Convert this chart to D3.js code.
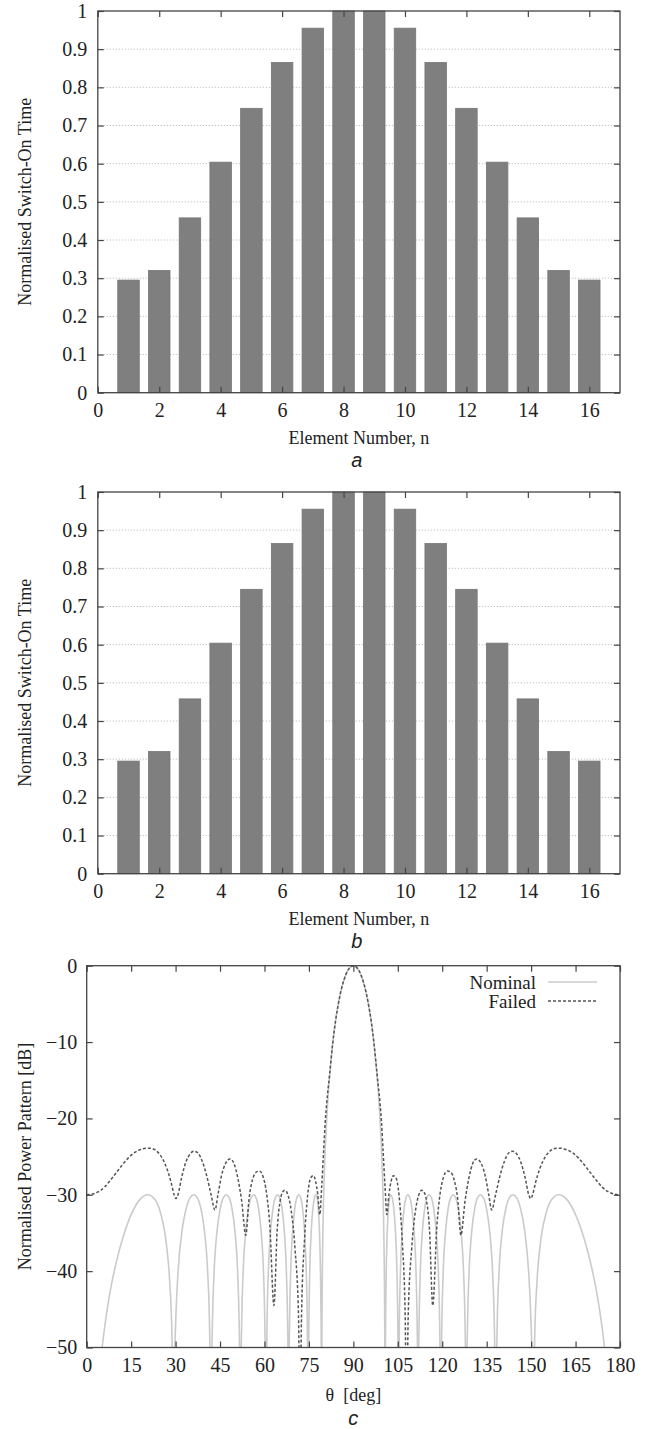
<!DOCTYPE html>
<html>
<head>
<meta charset="utf-8">
<script src="https://cdn.jsdelivr.net/npm/d3@7/dist/d3.min.js"></script>
<style>
  html, body { margin: 0; padding: 0; background: #fff; }
  svg { display: block; }
</style>
</head>
<body>
<svg id="fig" width="649" height="1429"></svg>
<script>
// ---- data -------------------------------------------------------------
const elementNumbers = [1, 2, 3, 4, 5, 6, 7, 8, 9, 10, 11, 12, 13, 14, 15, 16];
const switchOnTimesA = [0.295, 0.32, 0.458, 0.604, 0.745, 0.865, 0.955, 1.0,
                        1.0, 0.955, 0.865, 0.745, 0.604, 0.458, 0.32, 0.295];
const switchOnTimesB = [0.295, 0.32, 0.458, 0.604, 0.745, 0.865, 0.955, 1.0,
                        1.0, 0.955, 0.865, 0.745, 0.604, 0.458, 0.32, 0.295];
const elementTicks = [0, 2, 4, 6, 8, 10, 12, 14, 16];
const switchTicks = [0, 0.1, 0.2, 0.3, 0.4, 0.5, 0.6, 0.7, 0.8, 0.9, 1];
const switchTickLabels = ["0", "0.1", "0.2", "0.3", "0.4", "0.5", "0.6", "0.7", "0.8", "0.9", "1"];
const thetaTicks = [0, 15, 30, 45, 60, 75, 90, 105, 120, 135, 150, 165, 180];
const powerTicks = [0, -10, -20, -30, -40, -50];

// nominal power pattern [theta deg, dB]
const nominalPattern = [
  [0,-80],[1,-78],[2,-66.5],[3,-59.5],[4,-54.5],[5,-50.7],[6.5,-46.1],[8,-42.5],[10,-38.8],[12,-35.9],[15,-32.6],[18,-30.6],[20.6,-30],[23,-30.6],[25,-32.5],[27,-36.8],[28,-41.3],[28.8,-48.9],[29.1,-55.8],[29.34,-80],
  [29.48,-60],[29.68,-52.1],[30.09,-46.1],[30.82,-40.2],[32.21,-34.6],[33.57,-31.8],[34.87,-30.4],[36.14,-30],[37.36,-30.4],[38.54,-31.8],[39.71,-34.6],[40.84,-40.2],[41.40,-46.1],[41.66,-52.1],[41.83,-60],[41.95,-80],
  [42.05,-60],[42.21,-52.1],[42.47,-46.1],[42.99,-40.2],[44.03,-34.6],[45.06,-31.8],[46.10,-30.4],[47.14,-30],[48.09,-30.4],[49.04,-31.8],[50.00,-34.6],[50.95,-40.2],[51.42,-46.1],[51.66,-52.1],[51.81,-60],[51.90,-80],
  [51.99,-60],[52.12,-52.1],[52.34,-46.1],[52.79,-40.2],[53.68,-34.6],[54.56,-31.8],[55.45,-30.4],[56.34,-30],[57.17,-30.4],[58.01,-31.8],[58.84,-34.6],[59.68,-40.2],[60.09,-46.1],[60.30,-52.1],[60.43,-60],[60.51,-80],
  [60.59,-60],[60.71,-52.1],[60.90,-46.1],[61.30,-40.2],[62.09,-34.6],[62.87,-31.8],[63.66,-30.4],[64.45,-30],[65.19,-30.4],[65.93,-31.8],[66.67,-34.6],[67.41,-40.2],[67.78,-46.1],[67.97,-52.1],[68.08,-60],[68.15,-80],
  [68.22,-60],[68.32,-52.1],[68.50,-46.1],[68.84,-40.2],[69.53,-34.6],[70.23,-31.8],[70.92,-30.4],[71.61,-30],[72.24,-30.4],[72.87,-31.8],[73.49,-34.6],[74.12,-40.2],[74.44,-46.1],[74.59,-52.1],[74.69,-60],[74.75,-80],
  [74.80,-60],[74.88,-52.1],[75.02,-46.1],[75.28,-40.2],[75.81,-34.6],[76.35,-31.8],[76.88,-30.4],[77.41,-30],[77.79,-30.4],[78.16,-31.8],[78.54,-34.6],[78.91,-40.2],[79.10,-46.1],[79.20,-52.1],[79.25,-60],[79.29,-80],
  [79.4,-47.6],[79.7,-35.4],[80,-29.9],[80.5,-24.1],[81,-20.1],[82,-14.4],[83,-10.3],[84,-7.2],[85,-4.85],[86,-3.0],[87,-1.67],[88,-0.71],[89,-0.18],[90,0],
  [91,-0.18],[92,-0.71],[93,-1.67],[94,-3.0],[95,-4.85],[96,-7.2],[97,-10.3],[98,-14.4],[99,-20.1],[99.5,-24.1],[100,-29.9],[100.3,-35.4],[100.6,-47.6],[100.71,-80],
  [100.75,-60],[100.80,-52.1],[100.90,-46.1],[101.09,-40.2],[101.46,-34.6],[101.84,-31.8],[102.21,-30.4],[102.59,-30],[103.12,-30.4],[103.65,-31.8],[104.19,-34.6],[104.72,-40.2],[104.98,-46.1],[105.12,-52.1],[105.20,-60],[105.25,-80],
  [105.31,-60],[105.41,-52.1],[105.56,-46.1],[105.88,-40.2],[106.51,-34.6],[107.13,-31.8],[107.76,-30.4],[108.39,-30],[109.08,-30.4],[109.77,-31.8],[110.47,-34.6],[111.16,-40.2],[111.50,-46.1],[111.68,-52.1],[111.78,-60],[111.85,-80],
  [111.92,-60],[112.03,-52.1],[112.22,-46.1],[112.59,-40.2],[113.33,-34.6],[114.07,-31.8],[114.81,-30.4],[115.55,-30],[116.34,-30.4],[117.13,-31.8],[117.91,-34.6],[118.70,-40.2],[119.10,-46.1],[119.29,-52.1],[119.41,-60],[119.49,-80],
  [119.57,-60],[119.70,-52.1],[119.91,-46.1],[120.32,-40.2],[121.16,-34.6],[121.99,-31.8],[122.83,-30.4],[123.66,-30],[124.55,-30.4],[125.44,-31.8],[126.32,-34.6],[127.21,-40.2],[127.66,-46.1],[127.88,-52.1],[128.01,-60],[128.10,-80],
  [128.19,-60],[128.34,-52.1],[128.58,-46.1],[129.05,-40.2],[130.00,-34.6],[130.96,-31.8],[131.91,-30.4],[132.86,-30],[133.90,-30.4],[134.94,-31.8],[135.97,-34.6],[137.01,-40.2],[137.53,-46.1],[137.79,-52.1],[137.95,-60],[138.05,-80],
  [138.17,-60],[138.34,-52.1],[138.60,-46.1],[139.16,-40.2],[140.29,-34.6],[141.46,-31.8],[142.64,-30.4],[143.86,-30],[145.13,-30.4],[146.43,-31.8],[147.79,-34.6],[149.18,-40.2],[149.91,-46.1],[150.32,-52.1],[150.52,-60],[150.66,-80],
  [150.9,-55.8],[151.2,-48.9],[152,-41.3],[153,-36.8],[155,-32.5],[157,-30.6],[159.4,-30],[162,-30.6],[165,-32.6],[168,-35.9],[170,-38.8],[172,-42.5],[173.5,-46.1],[175,-50.7],[176,-54.5],[177,-59.5],[178,-66.5],[179,-78],[180,-80]
];

// pattern with a failed element [theta deg, dB]
const failedPattern = [
  [0,-30.0],[2,-29.9],[4,-29.6],[6,-29.0],[8,-28.1],[10,-27.1],[12,-26.1],[14,-25.2],[16,-24.5],[18,-24.1],[20,-23.9],[21.4,-23.9],[23,-24.1],[25,-24.9],[27,-26.5],[28.5,-28.4],[29.5,-30.0],[30.1,-30.5],[30.8,-30.0],
  [32,-27.8],[33.5,-25.7],[35,-24.6],[36.3,-24.3],[37.5,-24.5],[39,-25.6],[40.5,-27.5],[42,-30.0],[43.3,-32.0],[44.3,-30.0],[45.5,-27.5],[47,-25.8],[48.4,-25.3],[49.7,-25.9],[51,-27.8],[52.3,-30.8],[53.7,-35.3],
  [54.8,-30.5],[56,-28.0],[57.3,-27.0],[58.3,-26.9],[59.5,-27.6],[60.7,-29.8],[61.8,-34.0],[63.2,-44.5],[64.3,-34.5],[65.3,-30.8],[66.2,-29.6],[66.9,-29.4],[67.8,-29.9],[69,-32.0],[70.3,-37.0],[71.5,-46],[72.0,-60],
  [72.5,-46],[73.5,-36],[74.6,-30],[75.6,-27.8],[76.5,-27.5],[77.3,-28.3],[78.0,-30.0],[78.7,-32.6],[79.3,-29.0],[80,-24],[80.5,-20.5],[81,-18.0],[82,-14.2],[83,-10.3],[84,-7.2],[85,-4.85],[86,-3.0],[87,-1.67],[88,-0.71],[89,-0.18],[90,0],
  [91,-0.18],[92,-0.71],[93,-1.67],[94,-3.0],[95,-4.85],[96,-7.2],[97,-10.3],[98,-14.2],[99,-18.0],[99.5,-20.5],[100,-24],[100.7,-29.0],[101.3,-32.6],[102,-30.0],[102.7,-28.3],[103.5,-27.5],[104.4,-27.8],[105.4,-30],
  [106.5,-36],[107.5,-46],[108.0,-60],[108.5,-46],[109.7,-37.0],[111,-32.0],[112.2,-29.9],[113.1,-29.4],[113.8,-29.6],[114.7,-30.8],[115.7,-34.5],[116.8,-44.5],[118.2,-34.0],[119.3,-29.8],[120.5,-27.6],[121.7,-26.9],
  [122.7,-27.0],[124,-28.0],[125.2,-30.5],[126.3,-35.3],[127.7,-30.8],[129,-27.8],[130.3,-25.9],[131.6,-25.3],[133,-25.8],[134.5,-27.5],[135.7,-30.0],[136.7,-32.0],[138,-30.0],[139.5,-27.5],[141,-25.6],[142.5,-24.5],
  [143.7,-24.3],[145,-24.6],[146.5,-25.7],[148,-27.8],[149.2,-30.0],[149.9,-30.5],[150.5,-30.0],[151.5,-28.4],[153,-26.5],[155,-24.9],[157,-24.1],[158.6,-23.9],[160,-23.9],[162,-24.1],[164,-24.5],[166,-25.2],
  [168,-26.1],[170,-27.1],[172,-28.1],[174,-29.0],[176,-29.6],[178,-29.9],[180,-30.0]
];

// ---- layout -------------------------------------------------------------
const svg = d3.select("#fig");
const serif = "'Liberation Serif', 'Times New Roman', serif";
const sans = "'Liberation Sans', Arial, sans-serif";
const inkColor = "#222";
const axisColor = "#444";
const tickLen = 6;

function frame(g, x0, x1, y0, y1) {
  g.append("rect")
    .attr("x", x0).attr("y", y0)
    .attr("width", x1 - x0).attr("height", y1 - y0)
    .attr("fill", "none").attr("stroke", axisColor).attr("stroke-width", 1.3);
}

function styleAxes(axes) {
  axes.forEach(a => {
    a.select(".domain").remove();
    a.selectAll(".tick line").attr("stroke", axisColor).attr("stroke-width", 1.2);
    a.selectAll(".tick text").attr("font-family", serif).attr("font-size", 20).attr("fill", inkColor);
  });
}

function barPanel(top, values, caption) {
  const left = 97.8, right = 620, bottom = top + 381.7;
  const g = svg.append("g");
  const x = d3.scaleLinear().domain([0, 17]).range([left, right]);
  const y = d3.scaleLinear().domain([0, 1]).range([bottom, top]);

  // dotted horizontal grid
  g.append("g").selectAll("line")
    .data(switchTicks.filter(v => v > 0 && v < 1))
    .join("line")
    .attr("x1", left).attr("x2", right)
    .attr("y1", d => y(d)).attr("y2", d => y(d))
    .attr("stroke", "#b4b4b4").attr("stroke-width", 1)
    .attr("stroke-dasharray", "1,2");

  // bars
  const w = x(0.7) - x(0);
  g.append("g").selectAll("rect")
    .data(elementNumbers.map((n, i) => ({ n, v: values[i] })))
    .join("rect")
    .attr("x", d => x(d.n) - w / 2)
    .attr("y", d => y(d.v))
    .attr("width", w)
    .attr("height", d => y(0) - y(d.v))
    .attr("fill", "#7f7f7f")
    .attr("stroke", "#767676").attr("stroke-width", 0.8);

  // axes: labels on bottom/left, inward ticks on all sides
  const bottomAxis = d3.axisBottom(x).tickValues(elementTicks).tickSize(-tickLen).tickPadding(10)
    .tickFormat(d3.format("d"));
  const topAxis = d3.axisTop(x).tickValues(elementTicks).tickSize(-tickLen).tickFormat("");
  const leftAxis = d3.axisLeft(y).tickValues(switchTicks).tickSize(-tickLen).tickPadding(10.5)
    .tickFormat((d, i) => switchTickLabels[i]);
  const rightAxis = d3.axisRight(y).tickValues(switchTicks).tickSize(-tickLen).tickFormat("");

  styleAxes([
    g.append("g").attr("transform", `translate(0,${bottom})`).call(bottomAxis),
    g.append("g").attr("transform", `translate(0,${top})`).call(topAxis),
    g.append("g").attr("transform", `translate(${left},0)`).call(leftAxis),
    g.append("g").attr("transform", `translate(${right},0)`).call(rightAxis)
  ]);
  frame(g, left, right, top, bottom);

  g.append("text")
    .attr("transform", `translate(25,${(top + bottom) / 2}) rotate(-90)`)
    .attr("text-anchor", "middle").attr("dominant-baseline", "central")
    .attr("font-family", serif).attr("font-size", 18).attr("fill", inkColor)
    .text("Normalised Switch-On Time");
  g.append("text")
    .attr("x", (left + right) / 2).attr("y", bottom + 51)
    .attr("text-anchor", "middle")
    .attr("font-family", serif).attr("font-size", 18).attr("fill", inkColor)
    .text("Element Number, n");
  g.append("text")
    .attr("x", (left + right) / 2 - 2).attr("y", bottom + 74)
    .attr("text-anchor", "middle")
    .attr("font-family", sans).attr("font-style", "italic").attr("font-size", 20).attr("fill", inkColor)
    .text(caption);
}

barPanel(11, switchOnTimesA, "a");
barPanel(492, switchOnTimesB, "b");

// ---- power pattern panel ----------------------------------------------------
(function patternPanel() {
  const left = 86.7, right = 620, top = 965.7, bottom = 1347.5;
  const g = svg.append("g");
  const x = d3.scaleLinear().domain([0, 180]).range([left, right]);
  const y = d3.scaleLinear().domain([-50, 0]).range([bottom, top]);

  svg.append("defs").append("clipPath").attr("id", "plotClip")
    .append("rect").attr("x", left).attr("y", top - 2)
    .attr("width", right - left).attr("height", bottom - top + 2);

  const line = d3.line().x(d => x(d[0])).y(d => y(d[1])).curve(d3.curveMonotoneX);

  const curves = g.append("g").attr("clip-path", "url(#plotClip)");
  curves.append("path").datum(nominalPattern)
    .attr("d", line).attr("fill", "none")
    .attr("stroke", "#cbcbcb").attr("stroke-width", 1.6);
  curves.append("path").datum(failedPattern)
    .attr("d", line).attr("fill", "none")
    .attr("stroke", "#555").attr("stroke-width", 1.5)
    .attr("stroke-dasharray", "3,2");

  const bottomAxis = d3.axisBottom(x).tickValues(thetaTicks).tickSize(-tickLen).tickPadding(10)
    .tickFormat(d3.format("d"));
  const topAxis = d3.axisTop(x).tickValues(thetaTicks).tickSize(-tickLen).tickFormat("");
  const leftAxis = d3.axisLeft(y).tickValues(powerTicks).tickSize(-tickLen).tickPadding(9.5)
    .tickFormat(d3.format("d"));
  const rightAxis = d3.axisRight(y).tickValues(powerTicks).tickSize(-tickLen).tickFormat("");
  styleAxes([
    g.append("g").attr("transform", `translate(0,${bottom})`).call(bottomAxis),
    g.append("g").attr("transform", `translate(0,${top})`).call(topAxis),
    g.append("g").attr("transform", `translate(${left},0)`).call(leftAxis),
    g.append("g").attr("transform", `translate(${right},0)`).call(rightAxis)
  ]);
  frame(g, left, right, top, bottom);

  // legend
  const legend = g.append("g");
  const entries = [
    { label: "Nominal", color: "#cbcbcb", dash: null, y: 982 },
    { label: "Failed", color: "#555", dash: "3,2", y: 1001 }
  ];
  entries.forEach(e => {
    legend.append("text")
      .attr("x", 536).attr("y", e.y)
      .attr("text-anchor", "end").attr("dominant-baseline", "central")
      .attr("font-family", serif).attr("font-size", 19).attr("fill", inkColor)
      .text(e.label);
    legend.append("line")
      .attr("x1", 548).attr("x2", 597).attr("y1", e.y).attr("y2", e.y)
      .attr("stroke", e.color).attr("stroke-width", 1.5)
      .attr("stroke-dasharray", e.dash);
  });

  g.append("text")
    .attr("transform", `translate(25,${(top + bottom) / 2}) rotate(-90)`)
    .attr("text-anchor", "middle").attr("dominant-baseline", "central")
    .attr("font-family", serif).attr("font-size", 18).attr("fill", inkColor)
    .text("Normalised Power Pattern [dB]");
  g.append("text")
    .attr("x", (left + right) / 2).attr("y", bottom + 53)
    .attr("text-anchor", "middle")
    .attr("font-family", serif).attr("font-size", 18).attr("fill", inkColor)
    .attr("xml:space", "preserve")
    .text("θ  [deg]");
  g.append("text")
    .attr("x", (left + right) / 2).attr("y", bottom + 77)
    .attr("text-anchor", "middle")
    .attr("font-family", sans).attr("font-style", "italic").attr("font-size", 20).attr("fill", inkColor)
    .text("c");
})();
</script>
</body>
</html>
